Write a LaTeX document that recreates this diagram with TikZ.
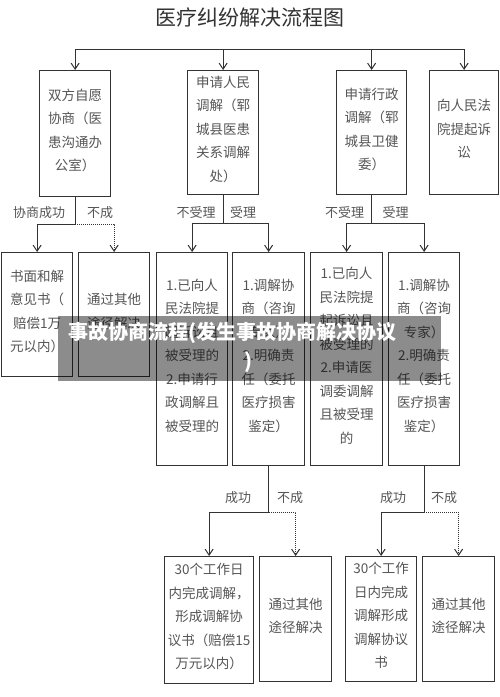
\documentclass[tikz,border=0pt]{standalone}
\usepackage{fontspec}
\setmainfont{Noto Sans CJK SC}
\usetikzlibrary{arrows.meta}
\definecolor{lc}{HTML}{333333}
\definecolor{tc}{HTML}{555555}
\begin{document}
\begin{tikzpicture}[x=1pt,y=-1pt,
  box/.style={draw=lc, line width=1.2pt, inner sep=0pt, text=tc, anchor=north west,
    font=\fontsize{13.5}{23.5}\selectfont, align=center, text depth=8pt},
  lbl/.style={text=tc, inner sep=0pt, font=\fontsize{13}{15}\selectfont},
  ln/.style={draw=lc, line width=1pt},
  arr/.style={-{Straight Barb[length=6pt,width=8pt,line width=1pt]}},
  dot/.style={dash pattern=on 1pt off 1pt}]
\useasboundingbox (0,0) rectangle (500,697);
\fill[white] (0,0) rectangle (500,697);
\node[text=lc, font=\fontsize{21}{24}\selectfont, inner sep=0pt] (title) at (250,18) {医疗纠纷解决流程图};
% top row
\node[box, minimum width=71pt, minimum height=126pt] (b1) at (39,70) {双方自愿\\协商（医\\患沟通办\\公室）};
\node[box, minimum width=71pt, minimum height=124pt] (b2) at (187,70) {申请人民\\调解（郓\\城县医患\\关系调解\\处）};
\node[box, minimum width=70pt, minimum height=124pt] (b3) at (336,70) {申请行政\\调解（郓\\城县卫健\\委）};
\node[box, minimum width=69pt, minimum height=124pt] (b4) at (429,70) {向人民法\\院提起诉\\讼};
% second row
\node[box, minimum width=71pt, minimum height=124pt] (bA) at (1,252) {书面和解\\意见书（\\赔偿1万\\元以内）};
\node[box, minimum width=71pt, minimum height=124pt] (bB) at (78,252) {通过其他\\途径解决};
\node[box, minimum width=71pt, minimum height=213pt] (bC) at (156,252) {1.已向人\\民法院提\\起诉讼且\\被受理的\\2.申请行\\政调解且\\被受理的};
\node[box, minimum width=72pt, minimum height=213pt] (bD) at (232,252) {1.调解协\\商（咨询\\专家）\\2.明确责\\任（委托\\医疗损害\\鉴定）};
\node[box, minimum width=72pt, minimum height=213pt] (bE) at (310,252) {1.已向人\\民法院提\\起诉讼且\\被受理的\\2.申请医\\调委调解\\且被受理\\的};
\node[box, minimum width=71pt, minimum height=213pt] (bF) at (388,252) {1.调解协\\商（咨询\\专家）\\2.明确责\\任（委托\\医疗损害\\鉴定）};
% third row
\node[box, minimum width=89pt, minimum height=127pt] (bG) at (164,556) {30个工作日\\内完成调解，\\形成调解协\\议书（赔偿15\\万元以内）};
\node[box, minimum width=72pt, minimum height=125pt] (bH) at (259,556) {通过其他\\途径解决};
\node[box, minimum width=71pt, minimum height=125pt] (bI) at (345,556) {30个工作\\日内完成\\调解形成\\调解协议\\书};
\node[box, minimum width=72pt, minimum height=125pt] (bJ) at (422,556) {通过其他\\途径解决};
% top connectors
\coordinate (t) at (0,49);
\draw[ln] (b1.north |- t) -- (b4.north |- t);
\foreach \b in {b1,b2,b3,b4} \draw[ln,arr] (\b.north |- t) -- (\b.north);
% branches
\path (b1.south) ++(0,27) coordinate (j1);
\path (b2.south) ++(0,28) coordinate (j2);
\path (b3.south) ++(0,28) coordinate (j3);
\path (bD.south) ++(0,46) coordinate (j4);
\path (bF.south) ++(0,46) coordinate (j5);
\draw[ln] (b1.south) -- (j1);
\draw[ln,arr] (j1) -| (bA.north);
\draw[ln,dot,arr] (j1) -| (bB.north);
\draw[ln] (b2.south) -- (j2);
\draw[ln,arr] (j2) -| (bC.north);
\draw[ln,arr] (j2) -| (bD.north);
\draw[ln] (b3.south) -- (j3);
\draw[ln,arr] (j3) -| (bE.north);
\draw[ln,arr] (j3) -| (bF.north);
\draw[ln] (bD.south) -- (j4);
\draw[ln,arr] (j4) -| (bG.north);
\draw[ln,dot,arr] (j4) -| (bH.north);
\draw[ln] (bF.south) -- (j5);
\draw[ln,arr] (j5) -| (bI.north);
\draw[ln,dot,arr] (j5) -| (bJ.north);
% labels
\node[lbl] (l1) at (39,213) {协商成功};
\node[lbl] (l2) at (100,213) {不成};
\node[lbl] (l3) at (196,213) {不受理};
\node[lbl] (l4) at (243,213) {受理};
\node[lbl] (l5) at (344.5,213) {不受理};
\node[lbl] (l6) at (395.5,213) {受理};
\node[lbl] (l7) at (238,498) {成功};
\node[lbl] (l8) at (290,498) {不成};
\node[lbl] (l9) at (393,498) {成功};
\node[lbl] (l10) at (444,498) {不成};
% watermark band
\fill[black, opacity=0.45] (58,316) rectangle (441,381);
\node[text=white, font=\fontsize{20}{22}\selectfont\bfseries, inner sep=0pt, anchor=west] (wm1) at (68,333) {事故协商流程(发生事故协商解决协议};
\node[text=white, font=\fontsize{20}{22}\selectfont\bfseries, inner sep=0pt] (wm2) at (248,362) {)};
\end{tikzpicture}
\end{document}
